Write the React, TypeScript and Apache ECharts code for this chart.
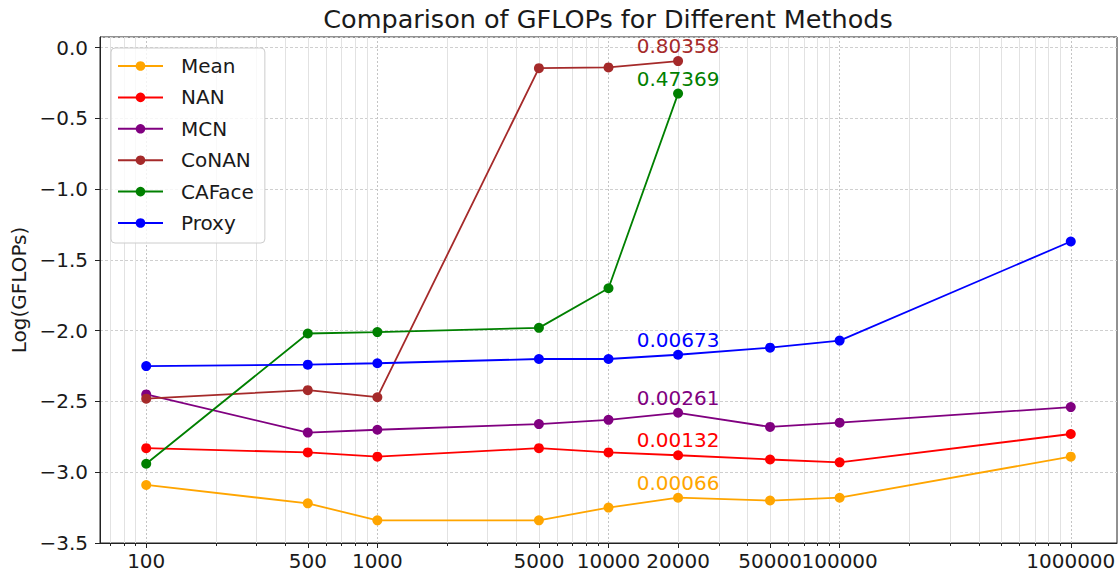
import React, { useEffect, useRef } from "react";
import * as echarts from "echarts";

const sizes = [100, 500, 1000, 5000, 10000, 20000, 50000, 100000, 1000000];
const majorTicks = [100, 500, 1000, 5000, 10000, 20000, 50000, 100000, 1000000];
const minorTicks = [
  70, 80, 90, 200, 300, 400, 500, 600, 700, 800, 900,
  2000, 3000, 4000, 5000, 6000, 7000, 8000, 9000,
  20000, 30000, 40000, 50000, 60000, 70000, 80000, 90000,
  200000, 300000, 400000, 500000, 600000, 700000, 800000, 900000,
];
const yTicksMin = -3.5;
const yTicksMax = 0.075;

const meanVals = [-3.09, -3.22, -3.34, -3.34, -3.25, -3.18, -3.2, -3.18, -2.89];
const nanVals = [-2.83, -2.86, -2.89, -2.83, -2.86, -2.88, -2.91, -2.93, -2.73];
const mcnVals = [-2.45, -2.72, -2.7, -2.66, -2.63, -2.58, -2.68, -2.65, -2.54];
const conanVals = [-2.48, -2.42, -2.47, -0.145, -0.14, -0.095];
const cafaceVals = [-2.94, -2.02, -2.01, -1.98, -1.7, -0.325];
const proxyVals = [-2.25, -2.24, -2.23, -2.2, -2.2, -2.17, -2.12, -2.07, -1.37];

const seriesNames = ["Mean", "NAN", "MCN", "CoNAN", "CAFace", "Proxy"];
const seriesColors = ["#FFA500", "#FF0000", "#800080", "#A52A2A", "#008000", "#0000FF"];
const seriesValues = [meanVals, nanVals, mcnVals, conanVals, cafaceVals, proxyVals];
const annotationX = 20000;
const annotationTexts = ["0.00066", "0.00132", "0.00261", "0.80358", "0.47369", "0.00673"];

const FONT = "DejaVu Sans";
const TEXT = "#1a1a1a";

function fmtY(v: number) {
  return v.toFixed(1).replace("-", "\u2212");
}

export default function App() {
  const ref = useRef<HTMLDivElement>(null);
  useEffect(() => {
    if (!ref.current) return;
    const chart = echarts.init(ref.current, undefined, { renderer: "svg" });
    const series = seriesNames.map((name, i) => ({
      name,
      type: "line",
      xAxisIndex: 0,
      yAxisIndex: 0,
      symbol: "circle",
      symbolSize: 10,
      color: seriesColors[i],
      lineStyle: { width: 1.8, color: seriesColors[i] },
      itemStyle: { color: seriesColors[i] },
      z: 3 + i,
      data: seriesValues[i].map((v, j) => {
        const x = sizes[j];
        if (x === annotationX) {
          return {
            value: [x, v],
            label: {
              show: true,
              position: "top",
              distance: 0,
              formatter: annotationTexts[i],
              color: seriesColors[i],
              fontFamily: FONT,
              fontSize: 20,
            },
          };
        }
        return [x, v];
      }),
    }));

    chart.setOption({
      animation: false,
      backgroundColor: "#ffffff",
      textStyle: { fontFamily: FONT },
      graphic: [
        {
          type: "text",
          x: 608,
          y: 19,
          style: {
            text: "Comparison of GFLOPs for Different Methods",
            fontFamily: FONT,
            fontSize: 25.5,
            fill: TEXT,
            textAlign: "center",
            textVerticalAlign: "middle",
          },
        },
      ],
      grid: {
        left: 100,
        right: 3,
        top: 37,
        bottom: 29,
        show: true,
        borderColor: "#222",
        borderWidth: 1,
        containLabel: false,
      },
      legend: {
        orient: "vertical",
        left: 111,
        top: 48,
        padding: [8, 11, 10, 6],
        itemWidth: 45,
        itemHeight: 12,
        itemGap: 11.4,
        borderColor: "#cccccc",
        borderWidth: 1,
        borderRadius: 4,
        backgroundColor: "rgba(255,255,255,0.8)",
        textStyle: {
          fontFamily: FONT,
          fontSize: 20,
          lineHeight: 20,
          color: TEXT,
          padding: [0, 0, 0, 13],
        },
        data: seriesNames,
      },
      xAxis: [
        {
          type: "log",
          position: "bottom",
          min: 63.1,
          max: 1585000,
          axisLine: { show: true, onZero: false, lineStyle: { color: "#222", width: 1 } },
          axisTick: {
            show: true,
            length: 5,
            customValues: majorTicks,
            lineStyle: { color: "#222" },
          },
          axisLabel: {
            show: true,
            customValues: majorTicks,
            fontFamily: FONT,
            fontSize: 20,
            color: TEXT,
            margin: 8,
            formatter: (v: number) => String(Math.round(v)),
          },
          splitLine: {
            show: true,
            lineStyle: { color: "#c4c4c4", width: 1, type: [2, 2] },
          },
        },
        {
          type: "log",
          position: "bottom",
          min: 63.1,
          max: 1585000,
          axisLine: { show: false, onZero: false },
          axisTick: {
            show: true,
            length: 3,
            customValues: minorTicks,
            lineStyle: { color: "#222" },
          },
          axisLabel: { show: false },
          splitLine: {
            show: true,
            lineStyle: { color: "#e2e2e2", width: 1, type: "solid" },
          },
        },
      ],
      yAxis: {
        type: "value",
        min: yTicksMin,
        max: yTicksMax,
        interval: 0.5,
        name: "Log(GFLOPs)",
        nameLocation: "middle",
        nameRotate: 90,
        nameGap: 70,
        nameTextStyle: { fontFamily: FONT, fontSize: 20, color: TEXT },
        axisLine: { show: true, onZero: false, lineStyle: { color: "#222", width: 1 } },
        axisTick: { show: true, length: 5, lineStyle: { color: "#222" } },
        axisLabel: {
          fontFamily: FONT,
          fontSize: 20,
          color: TEXT,
          margin: 12,
          showMaxLabel: false,
          formatter: (v: number) => fmtY(v),
        },
        splitLine: {
          show: true,
          lineStyle: { color: "#cfcfcf", width: 1, type: [3, 2] },
        },
      },
      series,
    });
    return () => chart.dispose();
  }, []);
  return (
    <div
      ref={ref}
      style={{ position: "fixed", left: 0, top: 0, width: 1120, height: 572, background: "#fff" }}
    />
  );
}
